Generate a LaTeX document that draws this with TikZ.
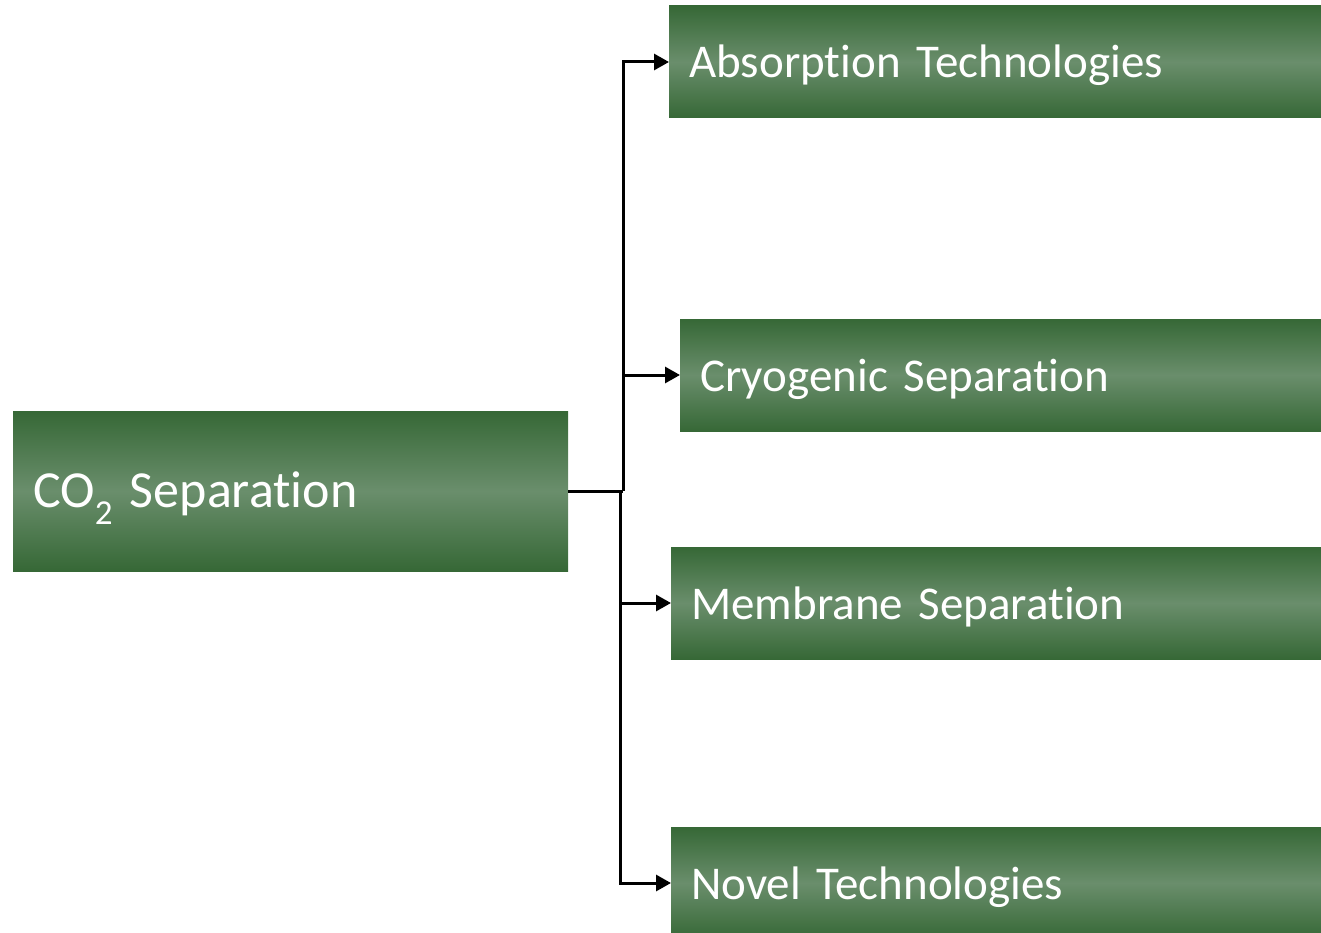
\documentclass[tikz,border=0pt]{standalone}
\usepackage{fontspec}
\setmainfont{Carlito}[Ligatures={NoCommon,NoContextual}]
\newcommand\tiNL{t\kern0pt i}
\usetikzlibrary{arrows.meta}
\definecolor{dkgreen}{RGB}{54,104,54}
\definecolor{ltgreen}{RGB}{106,142,108}
\tikzset{
  greenbox/.style={rectangle, anchor=west, top color=dkgreen, bottom color=dkgreen, middle color=ltgreen,
    text=white, inner xsep=20pt, inner ysep=0pt, align=left,
    execute at begin node={\rule[-40pt]{0pt}{112pt}},
    font=\fontsize{47}{56}\selectfont},
  rootbox/.style={greenbox, execute at begin node={\rule[-64pt]{0pt}{160pt}},
    font=\fontsize{52}{60}\selectfont},
  conn/.style={line width=3pt, -{Triangle[length=15pt,width=16pt]}},
  trunk/.style={line width=3pt}
}
\begin{document}
\begin{tikzpicture}[x=1pt,y=-1pt]
\useasboundingbox (0,0) rectangle (1321,933);
\node[rootbox, text width=515pt] (root) at (13,491) {CO\raisebox{-0.33em}{\fontsize{35}{35}\selectfont 2} Separa\tiNL on};
\node[greenbox, text width=612pt] (abs) at (669,62) {Absorp\tiNL on Technologies};
\node[greenbox, text width=601pt] (cry) at (680,375) {Cryogenic Separa\tiNL on};
\node[greenbox, text width=610pt] (mem) at (671,603) {Membrane Separa\tiNL on};
\node[greenbox, text width=610pt] (nov) at (671,883) {Novel Technologies};
\coordinate (j1) at (623,491);
\coordinate (j2) at (620,491);
\draw[trunk] (root.east) -- (j1);
\draw[conn] (j1) |- (abs.west);
\draw[conn] (j1) |- (cry.west);
\draw[conn] (j2) |- (mem.west);
\draw[conn] (j2) |- (nov.west);
\end{tikzpicture}
\end{document}
